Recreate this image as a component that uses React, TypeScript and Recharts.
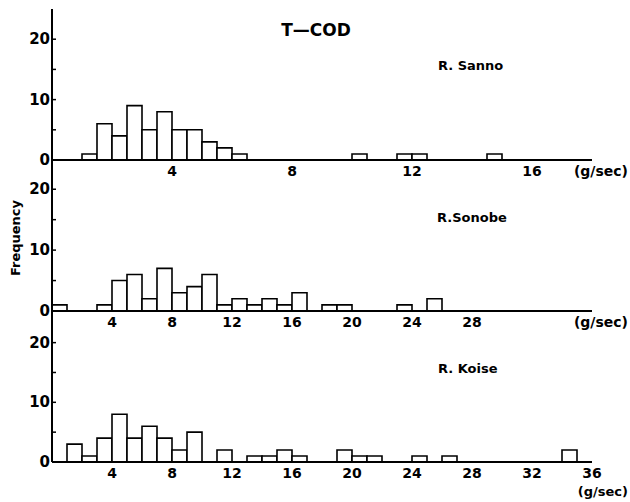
import React from "react";
import { ComposedChart, Bar, Line, XAxis, YAxis } from "recharts";

// frequency per class; Sanno uses 0.5 g/sec classes, Sonobe and Koise 1 g/sec classes
const sannoCounts = [0, 0, 1, 6, 4, 9, 5, 8, 5, 5, 3, 2, 1, 0, 0, 0, 0, 0, 0, 0, 1, 0, 0, 1, 1, 0, 0, 0, 0, 1, 0, 0, 0, 0, 0, 0];
const sonobeCounts = [1, 0, 0, 1, 5, 6, 2, 7, 3, 4, 6, 1, 2, 1, 2, 1, 3, 0, 1, 1, 0, 0, 0, 1, 0, 2, 0, 0, 0, 0, 0, 0, 0, 0, 0, 0];
const koiseCounts = [0, 3, 1, 4, 8, 4, 6, 4, 2, 5, 0, 2, 0, 1, 1, 2, 1, 0, 0, 2, 1, 1, 0, 0, 1, 0, 1, 0, 0, 0, 0, 0, 0, 0, 2, 0];

const sannoTicks = [4, 8, 12, 16];
const sonobeTicks = [4, 8, 12, 16, 20, 24, 28];
const koiseTicks = [4, 8, 12, 16, 20, 24, 28, 32, 36];
const freqTicks = [0, 5, 10, 15, 20];
const freqLabels = [0, 10, 20];

const font = "'DejaVu Sans', sans-serif";

const toRows = (counts: number[], width: number) => counts.map((n, i) => ({ bin: i, mid: (i + 0.5) * width, n }));

function YTick({ x, y, payload }: any) {
  return (
    <g>
      <line x1={x} x2={x + 4} y1={y} y2={y} stroke="#000" strokeWidth={1.5} />
      {freqLabels.includes(payload.value) && (
        <text x={x - 2} y={y} dy={5} textAnchor="end" fontSize={15} fontWeight="bold" fontFamily={font} fill="#000">
          {payload.value}
        </text>
      )}
    </g>
  );
}

function Panel({ counts, binWidth, xMax, ticks, yMax, top, height }: { counts: number[]; binWidth: number; xMax: number; ticks: number[]; yMax: number; top: number; height: number }) {
  return (
    <div style={{ position: "absolute", left: 0, top }}>
      <ComposedChart width={630} height={height} data={toRows(counts, binWidth)} margin={{ top: 5, right: 38, bottom: 5, left: 0 }} barCategoryGap={0} barGap={0}>
        <XAxis xAxisId="bins" dataKey="bin" hide height={0} />
        <XAxis
          xAxisId="val"
          dataKey="mid"
          type="number"
          domain={[0, xMax]}
          allowDataOverflow
          ticks={ticks}
          interval={0}
          height={20}
          tickLine={false}
          tickSize={0}
          tickMargin={6}
          axisLine={{ stroke: "#000", strokeWidth: 2.2 }}
          tick={{ fontSize: 14, fontWeight: "bold", fontFamily: font, fill: "#000" }}
        />
        <YAxis
          type="number"
          domain={[0, yMax]}
          allowDataOverflow
          ticks={freqTicks}
          interval={0}
          width={52}
          tickLine={false}
          tickSize={0}
          tickMargin={0}
          axisLine={{ stroke: "#000", strokeWidth: 2 }}
          tick={<YTick />}
        />
        <Bar xAxisId="bins" dataKey="n" fill="#fff" stroke="#000" strokeWidth={1.6} isAnimationActive={false} />
        <Line xAxisId="val" dataKey="n" stroke="none" dot={false} activeDot={false} isAnimationActive={false} />
      </ComposedChart>
    </div>
  );
}

export default function App() {
  return (
    <div style={{ position: "absolute", left: 0, top: 0, width: 630, height: 502, background: "#fff" }}>
      <Panel counts={sannoCounts} binWidth={0.5} xMax={18} ticks={sannoTicks} yMax={25} top={4} height={181} />
      <Panel counts={sonobeCounts} binWidth={1} xMax={36} ticks={sonobeTicks} yMax={24.8} top={155} height={181} />
      <Panel counts={koiseCounts} binWidth={1} xMax={36} ticks={koiseTicks} yMax={25.3} top={306} height={181} />
      <svg width={630} height={502} style={{ position: "absolute", left: 0, top: 0, pointerEvents: "none" }} fontFamily={font} fontWeight="bold" fill="#000">
        <text x={316} y={36} fontSize={17} textAnchor="middle">T—COD</text>
        <text x={438} y={70} fontSize={13}>R. Sanno</text>
        <text x={437} y={222} fontSize={13}>R.Sonobe</text>
        <text x={438} y={373} fontSize={13}>R. Koise</text>
        <text x={20} y={238} fontSize={13} textAnchor="middle" transform="rotate(-90 20 238)">Frequency</text>
        <text x={628} y={176} fontSize={14} textAnchor="end">(g/sec)</text>
        <text x={628} y={327} fontSize={14} textAnchor="end">(g/sec)</text>
        <text x={628} y={496} fontSize={13} textAnchor="end">(g/sec)</text>
      </svg>
    </div>
  );
}
